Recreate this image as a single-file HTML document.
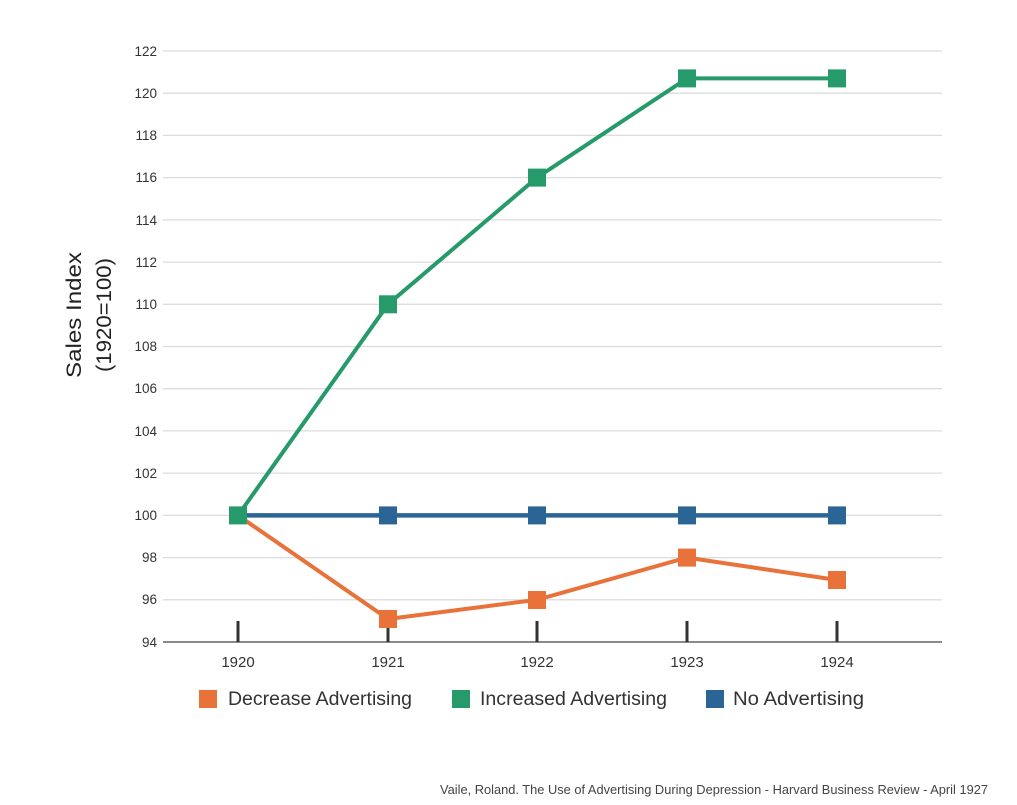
<!DOCTYPE html>
<html>
<head>
<meta charset="utf-8">
<style>
  html, body { margin: 0; padding: 0; background: #ffffff; }
  svg { display: block; }
  text { font-family: "Liberation Sans", "DejaVu Sans", sans-serif; }
</style>
</head>
<body>
<svg width="1017" height="805" viewBox="0 0 1017 805" xmlns="http://www.w3.org/2000/svg">
  <rect width="1017" height="805" fill="#ffffff"/>
  <!-- gridlines -->
  <g stroke="#dcdcdc" stroke-width="1.3">
    <line x1="163" x2="942" y1="51" y2="51"/>
    <line x1="163" x2="942" y1="93.2" y2="93.2"/>
    <line x1="163" x2="942" y1="135.4" y2="135.4"/>
    <line x1="163" x2="942" y1="177.6" y2="177.6"/>
    <line x1="163" x2="942" y1="219.9" y2="219.9"/>
    <line x1="163" x2="942" y1="262.1" y2="262.1"/>
    <line x1="163" x2="942" y1="304.3" y2="304.3"/>
    <line x1="163" x2="942" y1="346.5" y2="346.5"/>
    <line x1="163" x2="942" y1="388.7" y2="388.7"/>
    <line x1="163" x2="942" y1="430.9" y2="430.9"/>
    <line x1="163" x2="942" y1="473.1" y2="473.1"/>
    <line x1="163" x2="942" y1="515.4" y2="515.4"/>
    <line x1="163" x2="942" y1="557.6" y2="557.6"/>
    <line x1="163" x2="942" y1="599.8" y2="599.8"/>
  </g>
  <!-- x axis -->
  <line x1="163" x2="942" y1="642" y2="642" stroke="#8a8a8a" stroke-width="2"/>
  <g stroke="#333" stroke-width="3">
    <line x1="238" x2="238" y1="621" y2="642"/>
    <line x1="388" x2="388" y1="621" y2="642"/>
    <line x1="537" x2="537" y1="621" y2="642"/>
    <line x1="687" x2="687" y1="621" y2="642"/>
    <line x1="837" x2="837" y1="621" y2="642"/>
  </g>
  <!-- y tick labels -->
  <g font-size="13.5" fill="#333" text-anchor="end">
    <text x="157" y="56">122</text>
    <text x="157" y="98">120</text>
    <text x="157" y="140">118</text>
    <text x="157" y="182">116</text>
    <text x="157" y="225">114</text>
    <text x="157" y="267">112</text>
    <text x="157" y="309">110</text>
    <text x="157" y="351">108</text>
    <text x="157" y="393">106</text>
    <text x="157" y="436">104</text>
    <text x="157" y="478">102</text>
    <text x="157" y="520">100</text>
    <text x="157" y="562">98</text>
    <text x="157" y="604">96</text>
    <text x="157" y="647">94</text>
  </g>
  <!-- x labels -->
  <g font-size="15" fill="#333" text-anchor="middle">
    <text x="238" y="667">1920</text>
    <text x="388" y="667">1921</text>
    <text x="537" y="667">1922</text>
    <text x="687" y="667">1923</text>
    <text x="837" y="667">1924</text>
  </g>
  <!-- y axis title -->
  <g font-size="21" fill="#222" text-anchor="middle">
    <text transform="translate(81,315) rotate(-90)" textLength="126" lengthAdjust="spacingAndGlyphs">Sales Index</text>
    <text transform="translate(111,315) rotate(-90)" textLength="114" lengthAdjust="spacingAndGlyphs">(1920=100)</text>
  </g>
  <!-- series: Increased (green) -->
  <polyline fill="none" stroke="#279a6c" stroke-width="4" stroke-linejoin="round"
    points="238,515.4 388,304.3 537,177.6 687,78.4 837,78.4"/>
  <!-- series: Decrease (orange) -->
  <polyline fill="none" stroke="#e8723a" stroke-width="4" stroke-linejoin="round"
    points="238,515.4 388,619 537,599.8 687,557.6 837,580"/>
  <!-- series: No advertising (blue) -->
  <polyline fill="none" stroke="#2b6595" stroke-width="4.5" stroke-linejoin="round"
    points="238,515.4 388,515.4 537,515.4 687,515.4 837,515.4"/>
  <!-- markers orange -->
  <g fill="#e8723a">
    <rect x="379" y="610" width="18" height="18"/>
    <rect x="528" y="591" width="18" height="18"/>
    <rect x="678" y="548.6" width="18" height="18"/>
    <rect x="828" y="571" width="18" height="18"/>
  </g>
  <!-- markers blue -->
  <g fill="#2b6595">
    <rect x="379" y="506.4" width="18" height="18"/>
    <rect x="528" y="506.4" width="18" height="18"/>
    <rect x="678" y="506.4" width="18" height="18"/>
    <rect x="828" y="506.4" width="18" height="18"/>
  </g>
  <!-- markers green -->
  <g fill="#279a6c">
    <rect x="229" y="506.4" width="18" height="18"/>
    <rect x="379" y="295.3" width="18" height="18"/>
    <rect x="528" y="168.6" width="18" height="18"/>
    <rect x="678" y="69.4" width="18" height="18"/>
    <rect x="828" y="69.4" width="18" height="18"/>
  </g>
  <!-- legend -->
  <rect x="199" y="690" width="18" height="18" fill="#e8723a"/>
  <text x="228" y="705" font-size="19" fill="#333" textLength="184" lengthAdjust="spacingAndGlyphs">Decrease Advertising</text>
  <rect x="452" y="690" width="18" height="18" fill="#279a6c"/>
  <text x="480" y="705" font-size="19" fill="#333" textLength="187" lengthAdjust="spacingAndGlyphs">Increased Advertising</text>
  <rect x="706" y="690" width="18" height="18" fill="#2b6595"/>
  <text x="733" y="705" font-size="19" fill="#333" textLength="131" lengthAdjust="spacingAndGlyphs">No Advertising</text>
  <!-- footer -->
  <text x="440" y="794" font-size="12.5" fill="#444" textLength="548" lengthAdjust="spacingAndGlyphs">Vaile, Roland. The Use of Advertising During Depression - Harvard Business Review - April 1927</text>
</svg>
</body>
</html>
